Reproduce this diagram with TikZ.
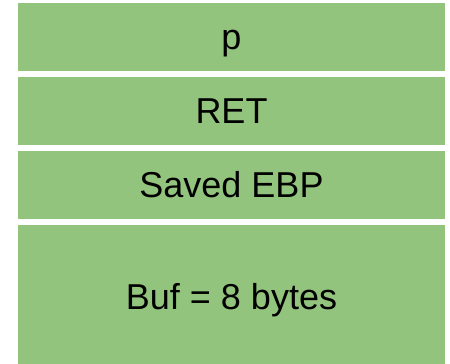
\documentclass[tikz,border=0pt]{standalone}
\usepackage{fontspec}
\setmainfont{Liberation Sans}
\usepackage{xcolor}
\definecolor{stackgreen}{HTML}{93C47D}

\begin{document}
\begin{tikzpicture}[
    x=1pt, y=1pt,
    frame/.style={rectangle, fill=stackgreen, inner sep=0pt, minimum width=427pt,
        text height=25.8pt, text depth=0pt, font=\fontsize{36}{43}\selectfont},
]

% === Khung ===
\useasboundingbox (0,0) rectangle (450,364);

% === Cac o ngan xep ===
\node[frame, minimum height=67.7pt] (argp) at (231.5, 327.2) {p};
\node[frame, minimum height=68pt] (ret) at (231.5, 253.3) {RET};
\node[frame, minimum height=68pt] (ebp) at (231.5, 179.3) {Saved EBP};
\node[frame, minimum height=139pt] (buf) at (231.5, 69.5) {};
\node[font=\fontsize{36}{43}\selectfont, text height=25.8pt, text depth=0pt,
    inner sep=0pt] (buftext) at (231.5, 67.7) {Buf = 8 bytes};

\end{tikzpicture}
\end{document}
